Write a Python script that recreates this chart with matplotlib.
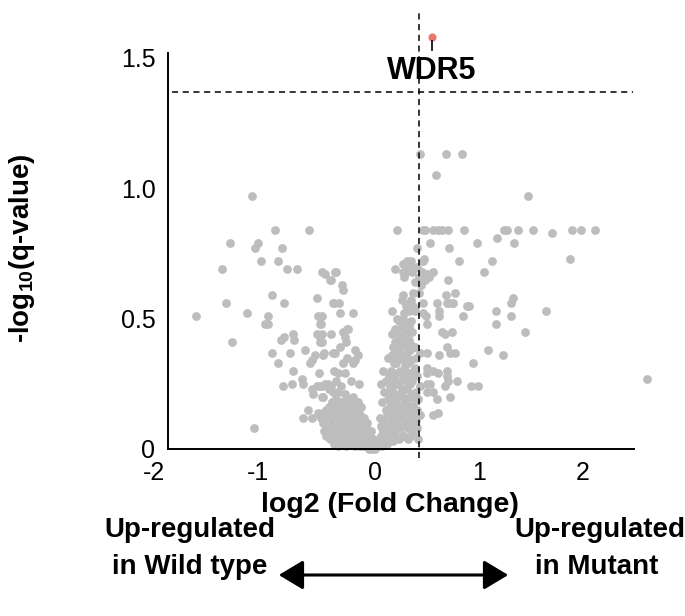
import matplotlib
matplotlib.use("Agg")
import matplotlib.pyplot as plt
import matplotlib.transforms as mtransforms
from matplotlib.patches import FancyArrowPatch

plt.rcParams["font.family"] = ["Liberation Sans", "DejaVu Sans"]
plt.rcParams["mathtext.fontset"] = "custom"
plt.rcParams["mathtext.rm"] = "Liberation Sans"
plt.rcParams["mathtext.bf"] = "Liberation Sans:bold"

# (log2 fold change, -log10 q-value)
wt_side = [
    (-1.73, 0.51), (-1.48, 0.69), (-1.44, 0.56), (-1.40, 0.79), (-1.38, 0.41), (-1.24, 0.52), (-1.19, 0.97),
    (-1.17, 0.08), (-1.16, 0.77), (-1.13, 0.79), (-1.10, 0.72), (-1.03, 0.51), (-1.03, 0.48), (-1.06, 0.48),
    (-1.00, 0.59), (-1.00, 0.37), (-0.97, 0.84), (-0.94, 0.72), (-0.94, 0.33), (-0.91, 0.42), (-0.90, 0.77),
    (-0.89, 0.24), (-0.88, 0.56), (-0.88, 0.43), (-0.85, 0.69), (-0.82, 0.37), (-0.80, 0.25), (-0.79, 0.44),
    (-0.79, 0.30), (-0.78, 0.42), (-0.75, 0.69), (-0.71, 0.27), (-0.70, 0.25), (-0.70, 0.12), (-0.68, 0.38),
    (-0.65, 0.15), (-0.64, 0.84), (-0.63, 0.33), (-0.61, 0.34), (-0.61, 0.12), (-0.58, 0.36), (-0.56, 0.44),
    (-0.56, 0.58), (-0.55, 0.51), (-0.55, 0.14), (-0.54, 0.29), (-0.53, 0.48), (-0.53, 0.43), (-0.51, 0.68),
    (-0.51, 0.51), (-0.51, 0.41), (-0.51, 0.20), (-0.50, 0.36), (-0.50, 0.14), (-0.48, 0.67), (-0.45, 0.12),
    (-0.44, 0.65), (-0.43, 0.44), (-0.43, 0.65), (-0.41, 0.56), (-0.41, 0.37), (-0.40, 0.56), (-0.39, 0.68),
    (-0.38, 0.68), (-0.35, 0.56), (-0.34, 0.52), (-0.32, 0.63), (-0.31, 0.61), (-0.21, 0.52), (-0.53, 0.41),
    (-0.51, 0.44), (-0.31, 0.45), (-0.26, 0.46), (-0.29, 0.43), (-0.28, 0.41), (-0.34, 0.39), (-0.39, 0.37),
    (-0.49, 0.37), (-0.19, 0.38), (-0.17, 0.36), (-0.27, 0.35), (-0.21, 0.33), (-0.31, 0.33), (-0.40, 0.30),
    (-0.36, 0.29), (-0.29, 0.29), (-0.38, 0.26), (-0.48, 0.25), (-0.53, 0.24), (-0.43, 0.24), (-0.33, 0.24),
    (-0.23, 0.26), (-0.16, 0.25), (-0.61, 0.23), (-0.56, 0.24), (-0.51, 0.24), (-0.46, 0.25), (-0.41, 0.22),
    (-0.60, 0.21), (-0.45, 0.23), (-0.36, 0.22), (-0.29, 0.21), (-0.21, 0.20), (-0.50, 0.20), (-0.17, 0.18),
    (-0.34, 0.16), (-0.43, 0.15), (-0.19, 0.34), (-0.27, 0.46), (-0.52, 0.48),
]

left_core = [
    (-0.50, 0.10), (-0.48, 0.13), (-0.46, 0.08), (-0.45, 0.16), (-0.43, 0.11), (-0.42, 0.06), (-0.41, 0.14),
    (-0.40, 0.09), (-0.39, 0.17), (-0.38, 0.04), (-0.37, 0.12), (-0.36, 0.07), (-0.35, 0.15), (-0.34, 0.10),
    (-0.33, 0.03), (-0.32, 0.13), (-0.31, 0.06), (-0.30, 0.17), (-0.29, 0.09), (-0.28, 0.12), (-0.27, 0.04),
    (-0.26, 0.15), (-0.25, 0.07), (-0.24, 0.11), (-0.23, 0.02), (-0.22, 0.14), (-0.21, 0.08), (-0.20, 0.05),
    (-0.19, 0.12), (-0.18, 0.16), (-0.17, 0.03), (-0.16, 0.09), (-0.15, 0.06), (-0.14, 0.11), (-0.13, 0.02),
    (-0.12, 0.07), (-0.11, 0.04), (-0.10, 0.09), (-0.09, 0.01), (-0.08, 0.05), (-0.07, 0.03), (-0.06, 0.07),
    (-0.05, 0.01), (-0.04, 0.03), (-0.03, 0.00), (-0.02, 0.02), (-0.44, 0.13), (-0.36, 0.01), (-0.33, 0.18),
    (-0.28, 0.01), (-0.24, 0.17), (-0.21, 0.13), (-0.19, 0.01), (-0.16, 0.14), (-0.13, 0.10), (-0.11, 0.12),
    (-0.47, 0.05), (-0.30, 0.11), (-0.26, 0.09), (-0.22, 0.05), (-0.18, 0.07), (-0.14, 0.04), (-0.35, 0.05),
    (-0.40, 0.02), (-0.10, 0.02), (-0.06, 0.00), (-0.38, 0.19), (-0.27, 0.19), (-0.23, 0.18), (-0.14, 0.16),
    (-0.52, 0.12), (-0.49, 0.07), (-0.47, 0.15), (-0.44, 0.04), (-0.42, 0.18), (-0.39, 0.06), (-0.37, 0.15),
    (-0.34, 0.13), (-0.32, 0.02), (-0.31, 0.09), (-0.29, 0.15), (-0.27, 0.07), (-0.25, 0.13), (-0.23, 0.09),
    (-0.21, 0.03), (-0.20, 0.16), (-0.18, 0.11), (-0.17, 0.06), (-0.15, 0.13), (-0.12, 0.10), (-0.09, 0.06),
    (-0.08, 0.10), (-0.07, 0.01), (-0.05, 0.05), (-0.04, 0.07), (-0.02, 0.04), (-0.11, 0.01), (-0.15, 0.01),
    (-0.25, 0.02), (-0.30, 0.04),
    (0.00, 0.00), (0.02, 0.01), (-0.01, 0.01), (0.03, 0.03), (0.01, 0.02),
]

right_core = [
    (0.05, 0.02), (0.06, 0.05), (0.07, 0.08), (0.08, 0.03), (0.09, 0.11), (0.10, 0.06), (0.10, 0.15),
    (0.11, 0.02), (0.12, 0.09), (0.12, 0.19), (0.13, 0.13), (0.14, 0.05), (0.14, 0.24), (0.15, 0.17),
    (0.15, 0.30), (0.16, 0.10), (0.16, 0.36), (0.17, 0.21), (0.17, 0.03), (0.18, 0.27), (0.18, 0.14),
    (0.19, 0.41), (0.19, 0.07), (0.20, 0.33), (0.20, 0.19), (0.21, 0.45), (0.21, 0.11), (0.22, 0.25),
    (0.22, 0.38), (0.23, 0.04), (0.23, 0.15), (0.24, 0.30), (0.24, 0.43), (0.25, 0.21), (0.25, 0.08),
    (0.26, 0.35), (0.26, 0.47), (0.27, 0.13), (0.27, 0.27), (0.28, 0.40), (0.28, 0.05), (0.29, 0.18),
    (0.29, 0.32), (0.30, 0.44), (0.30, 0.10), (0.31, 0.23), (0.31, 0.37), (0.32, 0.15), (0.32, 0.04),
    (0.33, 0.29), (0.33, 0.42), (0.34, 0.08), (0.34, 0.20), (0.35, 0.34), (0.35, 0.12), (0.36, 0.26),
    (0.36, 0.45), (0.37, 0.17), (0.37, 0.06), (0.38, 0.31), (0.38, 0.39), (0.39, 0.22), (0.39, 0.11),
    (0.40, 0.28), (0.40, 0.15), (0.41, 0.19), (0.13, 0.28), (0.16, 0.23), (0.18, 0.33), (0.20, 0.08),
    (0.22, 0.17), (0.24, 0.12), (0.26, 0.23), (0.28, 0.29), (0.30, 0.36), (0.32, 0.26), (0.34, 0.38),
    (0.36, 0.21), (0.21, 0.29), (0.25, 0.39), (0.29, 0.46), (0.33, 0.47), (0.23, 0.42), (0.19, 0.36),
    (0.27, 0.43), (0.31, 0.41), (0.35, 0.40), (0.17, 0.39), (0.11, 0.14), (0.08, 0.07), (0.13, 0.21),
    (0.38, 0.09), (0.32, 0.08), (0.41, 0.04), (0.06, 0.25), (0.08, 0.30), (0.10, 0.26), (0.12, 0.35),
    (0.07, 0.18), (0.05, 0.12), (0.09, 0.22),
    (0.03, 0.01), (0.04, 0.04), (0.06, 0.09), (0.07, 0.01), (0.09, 0.04), (0.11, 0.08), (0.13, 0.03),
    (0.14, 0.16), (0.15, 0.08), (0.17, 0.12), (0.18, 0.05), (0.19, 0.16), (0.20, 0.26), (0.22, 0.09),
    (0.23, 0.21), (0.24, 0.36), (0.25, 0.15), (0.26, 0.05), (0.27, 0.20), (0.28, 0.34), (0.29, 0.11),
    (0.30, 0.26), (0.31, 0.16), (0.32, 0.33), (0.33, 0.10), (0.34, 0.25), (0.35, 0.05), (0.36, 0.14),
    (0.37, 0.29), (0.38, 0.20), (0.39, 0.35), (0.40, 0.08), (0.19, 0.46), (0.23, 0.49), (0.27, 0.50),
    (0.31, 0.47), (0.35, 0.49), (0.16, 0.44), (0.21, 0.50),
]

mut_side = [
    (0.43, 1.13), (0.68, 1.13), (0.84, 1.13), (0.59, 1.05), (1.48, 0.97),
    (0.21, 0.84), (0.46, 0.84), (0.48, 0.84), (0.56, 0.84), (0.61, 0.84), (0.65, 0.84), (0.70, 0.84),
    (0.86, 0.84), (1.24, 0.84), (1.27, 0.84), (1.38, 0.84), (1.52, 0.84), (1.71, 0.83), (1.90, 0.84),
    (1.99, 0.84), (2.12, 0.84), (0.98, 0.79), (1.18, 0.81), (1.34, 0.79), (0.53, 0.79), (0.40, 0.77),
    (0.71, 0.77), (1.88, 0.73), (1.13, 0.72), (1.05, 0.68), (0.19, 0.69), (0.27, 0.68), (0.31, 0.72),
    (0.37, 0.69), (0.46, 0.72), (0.50, 0.67), (0.56, 0.68), (0.70, 0.65), (0.81, 0.72), (0.47, 0.73),
    (0.27, 0.71), (0.30, 0.68), (0.33, 0.70), (0.28, 0.66), (0.36, 0.68), (0.40, 0.70), (0.42, 0.66),
    (0.45, 0.68), (0.38, 0.64), (0.44, 0.63), (0.48, 0.65), (0.52, 0.66), (0.35, 0.72), (0.27, 0.59),
    (0.37, 0.60), (0.42, 0.60), (0.68, 0.59), (0.77, 0.60), (1.33, 0.58), (1.31, 0.56), (0.91, 0.55),
    (1.17, 0.53), (1.31, 0.51), (1.65, 0.53), (1.17, 0.48), (1.45, 0.45), (1.09, 0.38), (1.23, 0.36),
    (0.94, 0.33), (0.93, 0.24), (0.99, 0.24), (2.62, 0.27), (0.26, 0.57), (0.34, 0.56), (0.37, 0.55),
    (0.46, 0.56), (0.60, 0.56), (0.69, 0.56), (0.74, 0.56), (0.89, 0.55), (0.16, 0.53), (0.28, 0.52),
    (0.38, 0.53), (0.46, 0.52), (0.49, 0.51), (0.62, 0.53), (0.62, 0.51), (0.85, 0.51), (0.24, 0.49),
    (0.32, 0.48), (0.50, 0.48), (0.65, 0.45), (0.74, 0.45), (0.67, 0.44), (0.43, 0.37), (0.50, 0.37),
    (0.62, 0.36), (0.69, 0.39), (0.72, 0.37), (0.77, 0.37), (0.50, 0.31), (0.50, 0.29), (0.56, 0.30),
    (0.61, 0.29), (0.69, 0.30), (0.69, 0.28), (0.70, 0.26), (0.79, 0.26), (0.67, 0.24), (0.50, 0.25),
    (0.53, 0.25), (0.43, 0.24), (0.50, 0.22), (0.56, 0.22), (0.60, 0.19), (0.72, 0.20), (0.43, 0.13),
    (0.56, 0.13), (0.61, 0.14), (0.30, 0.55), (0.35, 0.57), (0.33, 0.53), (0.75, 0.56), (0.70, 0.56),
]

wdr5 = (0.55, 1.58)
fc_cutoff = 0.42
q_cutoff = 1.37
x_ticks = [-2, -1, 0, 1, 2]
y_ticks = [0, 0.5, 1.0, 1.5]
y_tick_labels = ["0", "0.5", "1.0", "1.5"]

W, H = 685, 616
fig = plt.figure(figsize=(W / 100, H / 100), dpi=100)
ax = fig.add_axes([168 / W, 1 - 449 / H, (660 - 168) / W, (449 - 10) / H])
ax.set_xlim(-2.0, 2.75)
ax.set_ylim(0, 1.684)

gray = "#bdbdbd"
for group in (wt_side, left_core, right_core, mut_side):
    xs, ys = zip(*group)
    ax.scatter(xs, ys, s=40, color=gray, linewidths=0, zorder=2, clip_on=False)

ax.plot([fc_cutoff, fc_cutoff], [-0.035, 1.684], ls=(0, (4, 3)), color="black", lw=1.1, zorder=3, clip_on=False)
ax.plot([-1.96, 2.49], [q_cutoff, q_cutoff], ls=(0, (4, 3)), color="black", lw=1.1, zorder=3)

ax.scatter([wdr5[0]], [wdr5[1]], s=34, color="#e8766e", linewidths=0, zorder=4, clip_on=False)
ax.plot([wdr5[0], wdr5[0]], [wdr5[1] - 0.015, 1.53], color="black", lw=1.2, zorder=4)
ax.text(wdr5[0], 1.45, "WDR5", ha="center", va="center", fontsize=22, fontweight="bold", zorder=5)

for side in ("top", "right"):
    ax.spines[side].set_visible(False)
ax.spines["left"].set_bounds(0, 1.52)
ax.spines["bottom"].set_bounds(-2, 2.5)
for side in ("left", "bottom"):
    ax.spines[side].set_linewidth(1.4)

ax.set_xticks(x_ticks)
ax.set_xticklabels([str(t) for t in x_ticks])
ax.set_yticks(y_ticks)
ax.set_yticklabels(y_tick_labels)
ax.tick_params(length=0, labelsize=18, pad=9)

# negative labels sit a little to the left in the original
shift = mtransforms.ScaledTranslation(-14 / 100, 0, fig.dpi_scale_trans)
for t, lab in zip(x_ticks, ax.get_xticklabels()):
    if t < 0:
        lab.set_transform(lab.get_transform() + shift)

fig.text(390 / W, 1 - 505 / H, "log2 (Fold Change)", ha="center", va="center", fontsize=20.5, fontweight="bold")
fig.text(22 / W, 1 - 248 / H, r"-log$_{\mathbf{10}}$(q-value)", ha="center", va="center",
         rotation=90, fontsize=20, fontweight="bold")

fig.text(190 / W, 1 - 530 / H, "Up-regulated", ha="center", va="center", fontsize=20, fontweight="bold")
fig.text(190 / W, 1 - 567 / H, "in Wild type", ha="center", va="center", fontsize=20, fontweight="bold")
fig.text(600 / W, 1 - 530 / H, "Up-regulated", ha="center", va="center", fontsize=20, fontweight="bold")
fig.text(597 / W, 1 - 567 / H, "in Mutant", ha="center", va="center", fontsize=20, fontweight="bold")

arrow = FancyArrowPatch((276 / W, 1 - 575 / H), (511 / W, 1 - 575 / H), transform=fig.transFigure,
                        arrowstyle="<|-|>,head_length=1.0,head_width=0.6", mutation_scale=15,
                        color="black", lw=2.2)
fig.patches.append(arrow)

fig.savefig("out.png", dpi=100)
